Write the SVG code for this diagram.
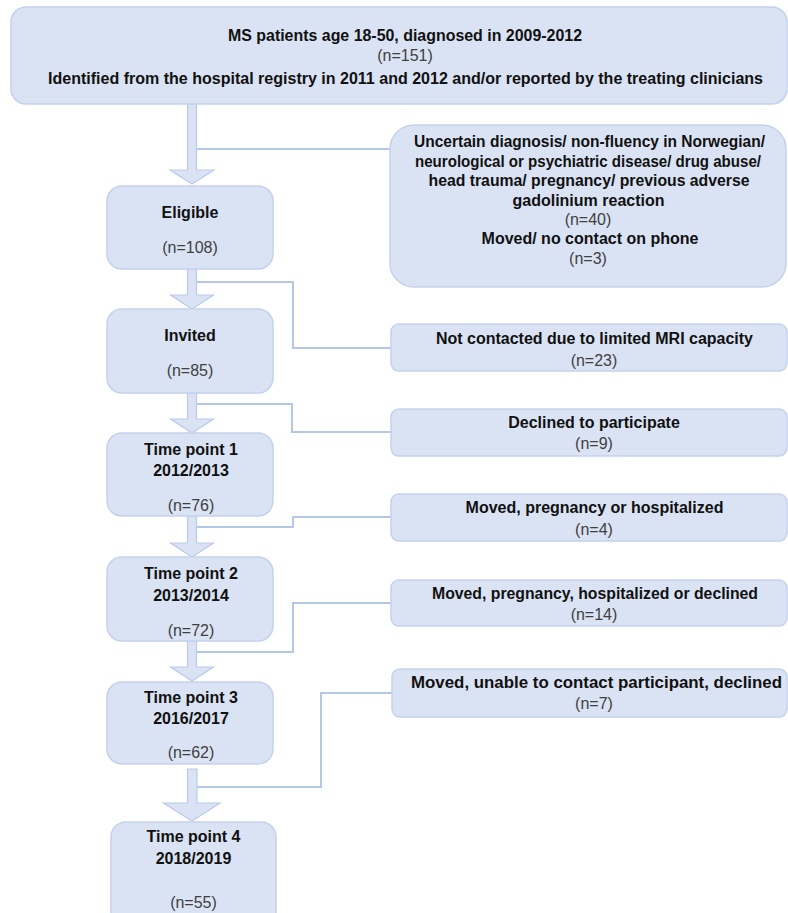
<svg xmlns="http://www.w3.org/2000/svg" width="788" height="913" viewBox="0 0 788 913">
<style>
.box{fill:#dae3f3;stroke:#c3d2ec;stroke-width:1.5}
.arr{fill:#dae3f3;stroke:#b9cbe9;stroke-width:1.2}
.ln{fill:none;stroke:#b4c7e7;stroke-width:2}
.b{font-family:"Liberation Sans",Arial,sans-serif;font-size:16px;font-weight:bold;fill:#111;text-anchor:middle}
.n{font-family:"Liberation Sans",Arial,sans-serif;font-size:16px;fill:#404040;text-anchor:middle}
</style>
<rect width="788" height="913" fill="#fff"/>
<g id="connectors">
<path class="arr" d="M187.5,104 H196.5 V170 H214 L192,184 L170,170 H187.5 Z"/>
<path class="arr" d="M187.5,269 H196.5 V295 H213.5 L192,309 L170.5,295 H187.5 Z"/>
<path class="arr" d="M187.5,393 H196.5 V419 H213.5 L192,433 L170.5,419 H187.5 Z"/>
<path class="arr" d="M187.5,516 H196.5 V543 H213.5 L192,557 L170.5,543 H187.5 Z"/>
<path class="arr" d="M187.5,641 H196.5 V667 H213.5 L192,681 L170.5,667 H187.5 Z"/>
<path class="arr" d="M187.5,769 H197 V803 H220 L192,821 L163.5,803 H187.5 Z"/>
<path class="ln" d="M197,149 H391"/>
<path class="ln" d="M197,282 H293 V348 H391"/>
<path class="ln" d="M197,404 H292 V432 H391"/>
<path class="ln" d="M197,527 H293 V517 H391"/>
<path class="ln" d="M197,652 H293 V603 H391"/>
<path class="ln" d="M197,787 H321 V693 H392"/>
</g>
<g id="n_top">
<rect class="box" x="11" y="7" width="776" height="97" rx="15"/>
<text class="b" x="405" y="40.5" textLength="354" lengthAdjust="spacingAndGlyphs">MS patients age 18-50, diagnosed in 2009-2012</text>
<text class="n" x="405" y="61">(n=151)</text>
<text class="b" x="405.5" y="84" textLength="715" lengthAdjust="spacingAndGlyphs">Identified from the hospital registry in 2011 and 2012 and/or reported by the treating clinicians</text>
</g>
<g id="n_excl1">
<rect class="box" x="390" y="125" width="396" height="162" rx="24"/>
<text class="b" x="589.5" y="147" textLength="351" lengthAdjust="spacingAndGlyphs">Uncertain diagnosis/ non-fluency in Norwegian/</text>
<text class="b" x="588" y="166.5" textLength="346" lengthAdjust="spacingAndGlyphs">neurological or psychiatric disease/ drug abuse/</text>
<text class="b" x="589" y="186" textLength="321" lengthAdjust="spacingAndGlyphs">head trauma/ pregnancy/ previous adverse</text>
<text class="b" x="588.5" y="205.5">gadolinium reaction</text>
<text class="n" x="588" y="224.5">(n=40)</text>
<text class="b" x="590" y="243.5">Moved/ no contact on phone</text>
<text class="n" x="588" y="263.5">(n=3)</text>
</g>
<g id="n_eligible">
<rect class="box" x="107" y="186" width="166" height="83" rx="15"/>
<text class="b" x="190" y="217.5">Eligible</text>
<text class="n" x="190" y="252.5">(n=108)</text>
</g>
<g id="n_invited">
<rect class="box" x="107" y="309" width="166" height="84" rx="15"/>
<text class="b" x="190" y="341">Invited</text>
<text class="n" x="190" y="376">(n=85)</text>
</g>
<g id="n_tp1">
<rect class="box" x="107" y="433" width="166" height="83" rx="15"/>
<text class="b" x="191" y="455">Time point 1</text>
<text class="b" x="191" y="476">2012/2013</text>
<text class="n" x="191" y="511">(n=76)</text>
</g>
<g id="n_tp2">
<rect class="box" x="107" y="557" width="166" height="84" rx="15"/>
<text class="b" x="191" y="579">Time point 2</text>
<text class="b" x="191" y="601">2013/2014</text>
<text class="n" x="191" y="636">(n=72)</text>
</g>
<g id="n_tp3">
<rect class="box" x="107" y="682" width="166" height="82" rx="15"/>
<text class="b" x="191" y="703">Time point 3</text>
<text class="b" x="191" y="724">2016/2017</text>
<text class="n" x="191" y="758">(n=62)</text>
</g>
<g id="n_tp4">
<rect class="box" x="111" y="822" width="165" height="105" rx="15"/>
<text class="b" x="193.5" y="842">Time point 4</text>
<text class="b" x="193.5" y="864">2018/2019</text>
<text class="n" x="193.5" y="908">(n=55)</text>
</g>
<g id="n_notcontacted">
<rect class="box" x="391" y="324" width="396" height="47" rx="8"/>
<text class="b" x="594.5" y="344" textLength="317" lengthAdjust="spacingAndGlyphs">Not contacted due to limited MRI capacity</text>
<text class="n" x="594" y="366">(n=23)</text>
</g>
<g id="n_declined">
<rect class="box" x="391" y="409" width="396" height="47" rx="8"/>
<text class="b" x="594" y="428">Declined to participate</text>
<text class="n" x="594" y="449">(n=9)</text>
</g>
<g id="n_excl_tp1">
<rect class="box" x="391" y="494" width="396" height="47" rx="8"/>
<text class="b" x="594.5" y="513">Moved, pregnancy or hospitalized</text>
<text class="n" x="594" y="535">(n=4)</text>
</g>
<g id="n_excl_tp2">
<rect class="box" x="391" y="580" width="396" height="46" rx="8"/>
<text class="b" x="595" y="599" textLength="326" lengthAdjust="spacingAndGlyphs">Moved, pregnancy, hospitalized or declined</text>
<text class="n" x="594" y="620">(n=14)</text>
</g>
<g id="n_excl_tp3">
<rect class="box" x="392" y="669" width="395" height="48" rx="8"/>
<text class="b" x="596.5" y="688" textLength="371" lengthAdjust="spacingAndGlyphs">Moved, unable to contact participant, declined</text>
<text class="n" x="594" y="709">(n=7)</text>
</g>
</svg>
